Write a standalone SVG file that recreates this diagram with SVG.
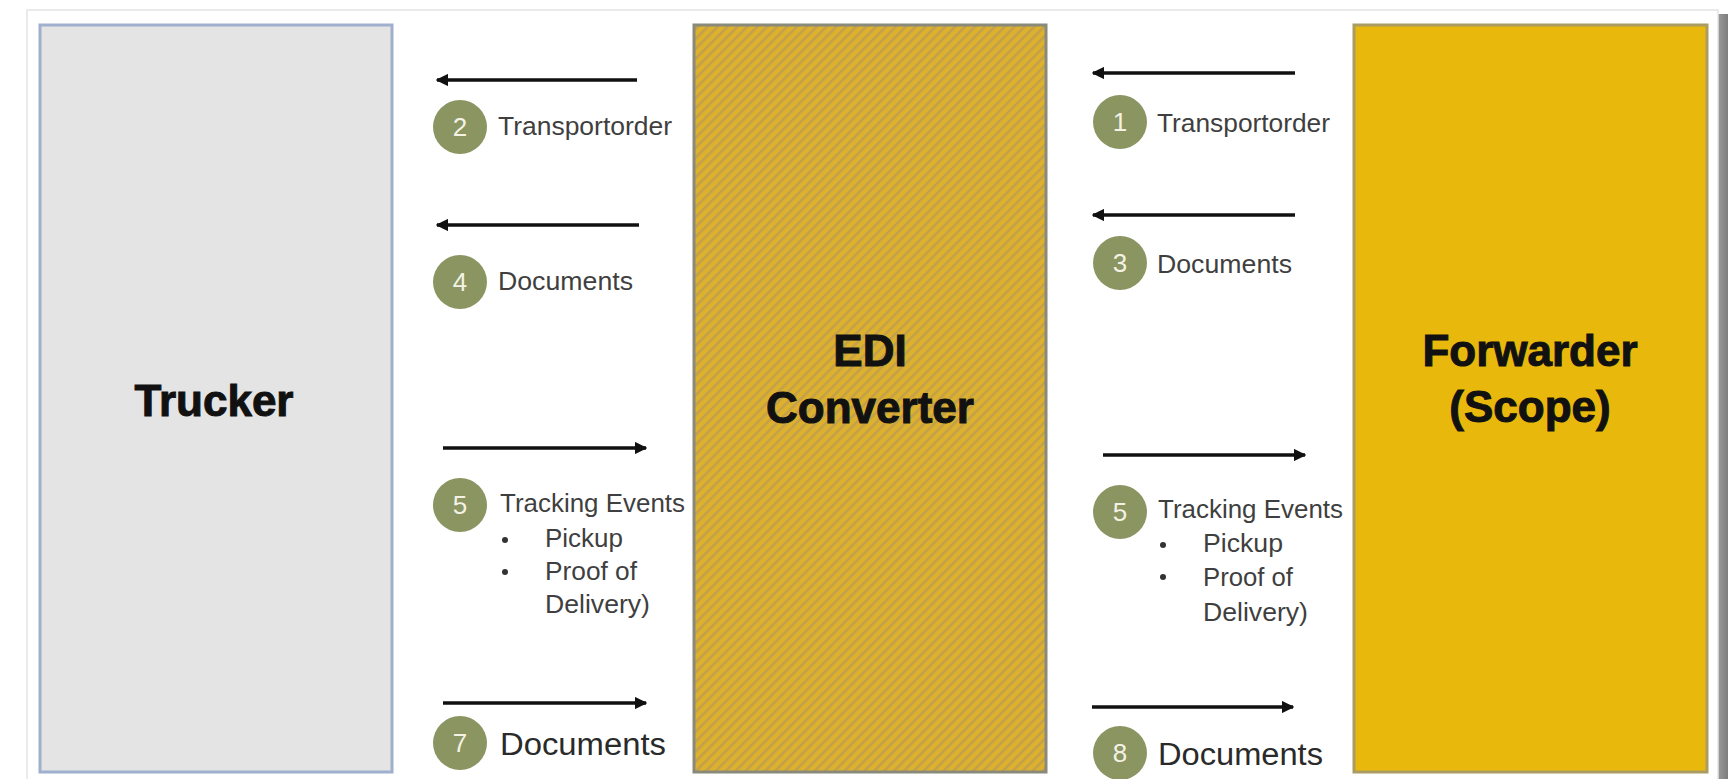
<svg xmlns="http://www.w3.org/2000/svg" width="1728" height="779" viewBox="0 0 1728 779">
<style>
.lbl{font-family:"Liberation Sans",Arial,sans-serif;font-size:26px;fill:#3f3f3f}
.big{font-family:"Liberation Sans",Arial,sans-serif;font-size:31px;fill:#2a2a2a}
.num{font-family:"Liberation Sans",Arial,sans-serif;font-size:26px;fill:#f4f2e4;text-anchor:middle}
.title{font-family:"Liberation Sans",Arial,sans-serif;font-weight:bold;font-size:44px;fill:#111;stroke:#111;stroke-width:1;text-anchor:middle}
.badge{fill:#8a9561}
.arrow{stroke:#111;stroke-width:3.5;fill:none;marker-end:url(#ah)}
.dot{fill:#333}
</style>
<defs>
<marker id="ah" viewBox="0 0 10 10" refX="9" refY="5" markerWidth="3.6" markerHeight="3.6" orient="auto" markerUnits="strokeWidth">
<path d="M0,0 L10,5 L0,10 z" fill="#111"/>
</marker>
<pattern id="stripes" width="7" height="7" patternUnits="userSpaceOnUse" patternTransform="rotate(45)">
<rect width="7" height="7" fill="#deb12c"/>
<rect x="0" y="0" width="2.6" height="7" fill="#c2a04c"/>
</pattern>
<linearGradient id="shadow" x1="0" y1="0" x2="1" y2="0">
<stop offset="0" stop-color="#9a9a9a"/>
<stop offset="1" stop-color="#7d7d7d"/>
</linearGradient>
</defs>
<rect width="1728" height="779" fill="#ffffff"/>
<rect x="1718" y="14" width="10" height="765" fill="url(#shadow)"/>
<rect x="27" y="10" width="1691" height="775" fill="#ffffff" stroke="#e4e4e4" stroke-width="1.5"/>

<g id="trucker">
<rect x="40" y="25" width="352" height="747" fill="#e4e4e4" stroke="#9fb0cf" stroke-width="3"/>
<text class="title" x="214" y="416">Trucker</text>
</g>
<g id="edi">
<rect x="694" y="25" width="352" height="747" fill="url(#stripes)" stroke="#8a8a7a" stroke-width="3"/>
<text class="title" x="870" y="366">EDI</text>
<text class="title" x="870" y="423">Converter</text>
</g>
<g id="forwarder">
<rect x="1354" y="25" width="353" height="747" fill="#e8b90c" stroke="#aa9c62" stroke-width="3"/>
<text class="title" x="1530" y="366">Forwarder</text>
<text class="title" x="1530" y="422">(Scope)</text>
</g>

<g id="connectors">
<line class="arrow" x1="637" y1="80" x2="437" y2="80"/>
<line class="arrow" x1="639" y1="225" x2="437" y2="225"/>
<line class="arrow" x1="443" y1="448" x2="646" y2="448"/>
<line class="arrow" x1="443" y1="703" x2="646" y2="703"/>
<line class="arrow" x1="1295" y1="73" x2="1093" y2="73"/>
<line class="arrow" x1="1295" y1="215" x2="1093" y2="215"/>
<line class="arrow" x1="1103" y1="455" x2="1305" y2="455"/>
<line class="arrow" x1="1092" y1="707" x2="1293" y2="707"/>
</g>

<g id="label-2">
<circle class="badge" cx="460" cy="127" r="27"/>
<text class="num" x="460" y="136">2</text>
<text class="lbl" x="498" y="135" textLength="174" lengthAdjust="spacingAndGlyphs">Transportorder</text>
</g>
<g id="label-4">
<circle class="badge" cx="460" cy="282" r="27"/>
<text class="num" x="460" y="291">4</text>
<text class="lbl" x="498" y="290" textLength="135" lengthAdjust="spacingAndGlyphs">Documents</text>
</g>
<g id="label-5-left">
<circle class="badge" cx="460" cy="505" r="27"/>
<text class="num" x="460" y="514">5</text>
<text class="lbl" x="500" y="512" textLength="185" lengthAdjust="spacingAndGlyphs">Tracking Events</text>
<circle class="dot" cx="505" cy="540" r="3"/>
<text class="lbl" x="545" y="547" textLength="78" lengthAdjust="spacingAndGlyphs">Pickup</text>
<circle class="dot" cx="505" cy="572" r="3"/>
<text class="lbl" x="545" y="580" textLength="92" lengthAdjust="spacingAndGlyphs">Proof of</text>
<text class="lbl" x="545" y="613" textLength="105" lengthAdjust="spacingAndGlyphs">Delivery)</text>
</g>
<g id="label-7">
<circle class="badge" cx="460" cy="743" r="27"/>
<text class="num" x="460" y="752">7</text>
<text class="big" x="500" y="755" textLength="166" lengthAdjust="spacingAndGlyphs">Documents</text>
</g>

<g id="label-1">
<circle class="badge" cx="1120" cy="122" r="27"/>
<text class="num" x="1120" y="131">1</text>
<text class="lbl" x="1157" y="132" textLength="173" lengthAdjust="spacingAndGlyphs">Transportorder</text>
</g>
<g id="label-3">
<circle class="badge" cx="1120" cy="263" r="27"/>
<text class="num" x="1120" y="272">3</text>
<text class="lbl" x="1157" y="273" textLength="135" lengthAdjust="spacingAndGlyphs">Documents</text>
</g>
<g id="label-5-right">
<circle class="badge" cx="1120" cy="512" r="27"/>
<text class="num" x="1120" y="521">5</text>
<text class="lbl" x="1158" y="518" textLength="185" lengthAdjust="spacingAndGlyphs">Tracking Events</text>
<circle class="dot" cx="1163" cy="545" r="3"/>
<text class="lbl" x="1203" y="552" textLength="80" lengthAdjust="spacingAndGlyphs">Pickup</text>
<circle class="dot" cx="1163" cy="577" r="3"/>
<text class="lbl" x="1203" y="586" textLength="90" lengthAdjust="spacingAndGlyphs">Proof of</text>
<text class="lbl" x="1203" y="621" textLength="105" lengthAdjust="spacingAndGlyphs">Delivery)</text>
</g>
<g id="label-8">
<circle class="badge" cx="1120" cy="753" r="27"/>
<text class="num" x="1120" y="762">8</text>
<text class="big" x="1158" y="765" textLength="165" lengthAdjust="spacingAndGlyphs">Documents</text>
</g>
</svg>
